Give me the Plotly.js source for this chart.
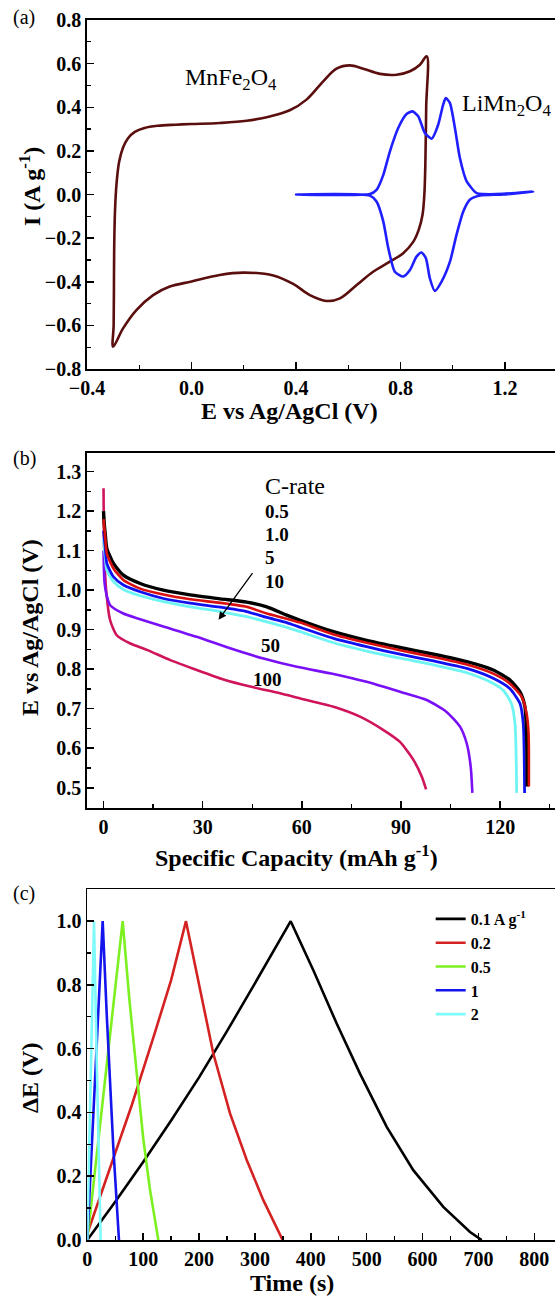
<!DOCTYPE html>
<html>
<head>
<meta charset="utf-8">
<script src="https://cdn.plot.ly/plotly-3.0.1.min.js"></script>
<style>html,body{margin:0;padding:0;background:#fff;}#chart{width:555px;height:1296px;}</style>
</head>
<body>
<div id="chart"></div>
<script>
// ---------- Panel (a): cyclic voltammograms ----------
const cvMnFeE = [-0.300,-0.298,-0.297,-0.296,-0.293,-0.287,-0.277,-0.262,-0.243,-0.217,-0.180,-0.130,-0.060,0.0,0.108,0.211,0.300,0.376,0.440,0.504,0.555,0.606,0.657,0.721,0.785,0.836,0.874,0.900,0.898,0.895,0.891,0.884,0.870,0.849,0.810,0.759,0.695,0.632,0.568,0.517,0.453,0.389,0.313,0.198,0.108,0.0,-0.083,-0.147,-0.211,-0.262,-0.300];
const cvMnFeI = [-0.698,-0.600,-0.450,-0.250,-0.080,0.050,0.150,0.215,0.258,0.287,0.305,0.315,0.320,0.323,0.328,0.338,0.358,0.386,0.435,0.519,0.577,0.592,0.577,0.553,0.549,0.565,0.595,0.634,0.400,0.150,0.000,-0.093,-0.160,-0.216,-0.269,-0.308,-0.354,-0.415,-0.476,-0.488,-0.461,-0.410,-0.371,-0.358,-0.369,-0.399,-0.422,-0.461,-0.530,-0.614,-0.698];
const cvLiMnE = [0.400,0.683,0.708,0.734,0.759,0.791,0.823,0.846,0.868,0.893,0.919,0.944,0.963,0.973,0.989,1.008,1.027,1.053,1.091,1.117,1.193,1.307,1.193,1.104,1.065,1.040,1.014,0.989,0.957,0.931,0.912,0.897,0.880,0.861,0.836,0.810,0.778,0.753,0.734,0.708,0.683,0.400];
const cvLiMnI = [0.000,0.002,0.021,0.090,0.197,0.305,0.369,0.381,0.358,0.282,0.256,0.320,0.412,0.442,0.419,0.305,0.167,0.060,0.006,0.002,0.003,0.014,0.000,-0.005,-0.024,-0.078,-0.185,-0.308,-0.399,-0.442,-0.384,-0.292,-0.266,-0.285,-0.346,-0.376,-0.354,-0.246,-0.124,-0.032,-0.005,0.000];
const cvNames = ['MnFe<sub>2</sub>O<sub>4</sub>', 'LiMn<sub>2</sub>O<sub>4</sub>'];

// ---------- Panel (b): discharge curves at different C-rates ----------
const cRateLabels = ['0.5', '1.0', '5', '10', '50', '100'];
const capC05 = [0,0.2,0.5,1,3,6,11.1,18.1,26.2,35.3,43.3,49.4,55.4,59.5,69.6,79.6,89.7,99.9,109.9,117.9,122.9,126.0,127.5,128.0,128.2];
const voltC05 = [1.20,1.17,1.144,1.106,1.068,1.038,1.017,1.000,0.988,0.978,0.970,0.958,0.937,0.924,0.895,0.873,0.855,0.838,0.819,0.798,0.773,0.743,0.705,0.638,0.503];
const capC1 = [0,0.5,1,3,6,11.1,18.1,26.2,35.3,43.3,49.4,55.4,59.5,69.6,79.6,89.7,99.8,109.9,117.9,122.9,126.5,128.0,128.6,128.7];
const voltC1 = [1.18,1.135,1.093,1.055,1.026,1.004,0.989,0.977,0.968,0.958,0.941,0.928,0.918,0.888,0.867,0.848,0.831,0.812,0.789,0.764,0.730,0.688,0.638,0.503];
const capC5 = [0,0.5,1,3,6,11.1,18.1,26.2,35.3,43.3,49.4,55.4,59.5,69.6,79.6,89.7,99.8,109.9,117.9,122.9,126.0,127.0,127.4];
const voltC5 = [1.15,1.110,1.068,1.034,1.013,0.996,0.979,0.967,0.957,0.946,0.931,0.918,0.906,0.878,0.857,0.838,0.821,0.802,0.777,0.751,0.713,0.662,0.487];
const capC10 = [0,0.5,1,3,6,11.1,18.1,26.2,35.3,43.3,49.4,55.4,59.5,69.6,79.6,89.7,99.8,109.9,116.9,120.9,123.4,124.5,125.0];
const voltC10 = [1.13,1.085,1.051,1.022,1.002,0.986,0.971,0.958,0.946,0.933,0.920,0.906,0.895,0.867,0.846,0.828,0.811,0.791,0.768,0.747,0.713,0.662,0.487];
const capC50 = [0,0.3,1,2,6,10.1,18.1,28.2,38.3,48.4,58.5,69.6,79.6,89.7,97.8,103.8,107.9,109.9,111.1,111.6];
const voltC50 = [1.10,1.02,0.985,0.962,0.941,0.929,0.908,0.882,0.853,0.827,0.806,0.788,0.768,0.743,0.722,0.692,0.654,0.612,0.553,0.487];
const capC100 = [0,0.2,0.8,2,4,8.1,13.1,20.2,28.2,36.3,44.4,53.4,59.5,69.6,77.6,84.7,89.7,93.8,96.3,97.6];
const voltC100 = [1.258,1.102,1.0,0.924,0.886,0.865,0.849,0.823,0.798,0.774,0.756,0.739,0.726,0.705,0.680,0.646,0.616,0.570,0.528,0.496];

// ---------- Panel (c): galvanostatic charge/discharge ----------
const currentLabels = ['0.1 A g<sup>-1</sup>', '0.2', '0.5', '1', '2'];
const time01 = [0,50,100,150,200,250,300,335,364,404.5,446.3,488,535.8,583.4,637.1,684.9,705.8];
const dE01 = [0,0.12,0.245,0.375,0.51,0.655,0.805,0.91,1.0,0.846,0.679,0.522,0.355,0.219,0.104,0.025,0];
const time02 = [0,40,80,120,150,176.6,201.7,225.5,255.4,285.3,315.0,340,349.6];
const dE02 = [0.02,0.22,0.425,0.645,0.815,1.0,0.783,0.585,0.397,0.251,0.125,0.035,0];
const time05 = [0,31,63.3,75,88,100,112,127.1];
const dE05 = [0,0.5,1.0,0.76,0.52,0.32,0.16,0];
const time1 = [0,13.5,27.5,34.7,46.5,56.7];
const dE1 = [0,0.5,1.0,0.71,0.292,0];
const time2 = [0,6,12,17,23.9];
const dE2 = [0,0.5,1.0,0.55,0];

// ---------- styling ----------
const SERIF = 'Liberation Serif';
const tickFont = {family: SERIF, size: 20, color: '#000', weight: 'bold'};
const numFont = {family: SERIF, size: 19, color: '#000', weight: 'bold'};
const titleFont = {family: SERIF, size: 24, color: '#000', weight: 'bold'};
const plainFont = {family: SERIF, size: 24, color: '#000'};

function axis(extra, minorDtick) {
  return Object.assign({
    showline: true, linecolor: '#000', linewidth: 1.8,
    ticks: 'inside', ticklen: 7, tickwidth: 1.5, tickcolor: '#000',
    showgrid: false, zeroline: false, fixedrange: true,
    tickfont: tickFont,
    minor: {ticks: 'inside', ticklen: 4, tickwidth: 1.3, tickcolor: '#000', dtick: minorDtick, showgrid: false}
  }, extra);
}

const spA = {shape: 'spline', smoothing: 1.0};
const sp = {shape: 'spline', smoothing: 0.6};
const traces = [
  {x: cvMnFeE, y: cvMnFeI, xaxis: 'x', yaxis: 'y', mode: 'lines', name: cvNames[0], showlegend: false,
   line: Object.assign({color: '#5a0e0e', width: 2.6}, spA)},
  {x: cvLiMnE, y: cvLiMnI, xaxis: 'x', yaxis: 'y', mode: 'lines', name: cvNames[1], showlegend: false,
   line: Object.assign({color: '#1f1fff', width: 2.6}, sp)},

  {x: capC100, y: voltC100, xaxis: 'x2', yaxis: 'y2', mode: 'lines', name: cRateLabels[5], showlegend: false,
   line: Object.assign({color: '#d0145c', width: 2.6}, sp)},
  {x: capC50, y: voltC50, xaxis: 'x2', yaxis: 'y2', mode: 'lines', name: cRateLabels[4], showlegend: false,
   line: Object.assign({color: '#7a10f5', width: 2.6}, sp)},
  {x: capC10, y: voltC10, xaxis: 'x2', yaxis: 'y2', mode: 'lines', name: cRateLabels[3], showlegend: false,
   line: Object.assign({color: '#6ff4f4', width: 2.8}, sp)},
  {x: capC5, y: voltC5, xaxis: 'x2', yaxis: 'y2', mode: 'lines', name: cRateLabels[2], showlegend: false,
   line: Object.assign({color: '#1010f0', width: 2.8}, sp)},
  {x: capC05, y: voltC05, xaxis: 'x2', yaxis: 'y2', mode: 'lines', name: cRateLabels[0], showlegend: false,
   line: Object.assign({color: '#000000', width: 3.4}, sp)},
  {x: capC1, y: voltC1, xaxis: 'x2', yaxis: 'y2', mode: 'lines', name: cRateLabels[1], showlegend: false,
   line: Object.assign({color: '#d81010', width: 2.6}, sp)},

  {x: time01, y: dE01, xaxis: 'x3', yaxis: 'y3', mode: 'lines', name: currentLabels[0],
   line: {color: '#000000', width: 2.6}},
  {x: time02, y: dE02, xaxis: 'x3', yaxis: 'y3', mode: 'lines', name: currentLabels[1],
   line: {color: '#d42222', width: 2.6}},
  {x: time05, y: dE05, xaxis: 'x3', yaxis: 'y3', mode: 'lines', name: currentLabels[2],
   line: {color: '#7cf020', width: 2.6}},
  {x: time1, y: dE1, xaxis: 'x3', yaxis: 'y3', mode: 'lines', name: currentLabels[3],
   line: {color: '#1414ee', width: 2.6}},
  {x: time2, y: dE2, xaxis: 'x3', yaxis: 'y3', mode: 'lines', name: currentLabels[4],
   line: {color: '#7ffafa', width: 2.6}}
];

const H = 1296, W = 555;
const px = v => v / W;
const py = v => 1 - v / H;

function ann(text, x, y, opts) {
  return Object.assign({text: text, x: x, y: y, xref: 'paper', yref: 'paper', showarrow: false,
    xanchor: 'center', yanchor: 'middle'}, opts);
}
function dataAnn(text, x, y, xr, yr, font, xanchor) {
  return {text: text, x: x, y: y, xref: xr, yref: yr, showarrow: false,
    xanchor: xanchor || 'center', yanchor: 'middle', font: font};
}

const annotations = [
  ann('(a)', px(11), py(17), {xanchor: 'left', font: {family: SERIF, size: 20, color: '#000'}}),
  ann('(b)', px(11), py(458), {xanchor: 'left', font: {family: SERIF, size: 20, color: '#000'}}),
  ann('(c)', px(11), py(893), {xanchor: 'left', font: {family: SERIF, size: 20, color: '#000'}}),
  // axis titles
  ann('I (A g<sup>-1</sup>)', px(30), py(187), {textangle: -90, font: titleFont}),
  ann('E vs Ag/AgCl (V)', px(289), py(411), {font: titleFont}),
  ann('E vs Ag/AgCl (V)', px(30), py(628), {textangle: -90, font: titleFont}),
  ann('Specific Capacity (mAh g<sup>-1</sup>)', px(296), py(856), {font: titleFont}),
  ann('\u0394E (V)', px(30), py(1078), {textangle: -90, font: titleFont}),
  ann('Time (s)', px(292), py(1283), {font: titleFont}),
  // panel (a) labels
  dataAnn(cvNames[0], 0.15, 0.53, 'x', 'y', plainFont),
  dataAnn(cvNames[1], 1.206, 0.41, 'x', 'y', plainFont),
  // panel (b) labels
  dataAnn('C-rate', 48.3, 1.264, 'x2', 'y2', plainFont, 'left'),
  dataAnn(cRateLabels[0], 48.3, 1.198, 'x2', 'y2', numFont, 'left'),
  dataAnn(cRateLabels[1], 48.3, 1.140, 'x2', 'y2', numFont, 'left'),
  dataAnn(cRateLabels[2], 48.3, 1.084, 'x2', 'y2', numFont, 'left'),
  dataAnn(cRateLabels[3], 48.3, 1.023, 'x2', 'y2', numFont, 'left'),
  dataAnn(cRateLabels[4], 50.4, 0.861, 'x2', 'y2', numFont),
  dataAnn(cRateLabels[5], 49.5, 0.775, 'x2', 'y2', numFont),
  {text: '', x: 34.8, y: 0.925, xref: 'x2', yref: 'y2', ax: 45.4, ay: 1.047, axref: 'x2', ayref: 'y2',
   showarrow: true, arrowhead: 2, arrowsize: 1.2, arrowwidth: 1.3, arrowcolor: '#000'}
];

const layout = {
  width: W, height: H,
  margin: {l: 0, r: 0, t: 0, b: 0},
  paper_bgcolor: '#fff', plot_bgcolor: '#fff',
  font: {family: SERIF, size: 18, color: '#000'},
  showlegend: true,
  legend: {x: 0.776, y: py(902), xanchor: 'left', yanchor: 'top', bgcolor: 'rgba(0,0,0,0)',
           borderwidth: 0, tracegroupgap: 0, itemwidth: 30,
           font: {family: SERIF, size: 16, color: '#000', weight: 'bold'}},
  xaxis: axis({domain: [px(87), 1], range: [-0.4, 1.391], anchor: 'y', mirror: true,
               tick0: -0.4, dtick: 0.4, tickformat: '.1f'}, 0.2),
  yaxis: axis({domain: [py(369), py(20)], range: [-0.8, 0.8], anchor: 'x',
               tick0: -0.8, dtick: 0.2, tickformat: '.1f'}, 0.1),
  xaxis2: axis({domain: [px(87), 1], range: [-5, 136.6], anchor: 'y2', mirror: true,
                tick0: 0, dtick: 30}, 15),
  yaxis2: axis({domain: [py(808.3), py(452.7)], range: [0.448, 1.348], anchor: 'x2',
                tick0: 0.5, dtick: 0.1, tickformat: '.1f'}, 0.05),
  xaxis3: axis({domain: [px(87.3), 1], range: [0, 837], anchor: 'y3', mirror: true,
                tick0: 0, dtick: 100}, 50),
  yaxis3: axis({domain: [py(1240), py(889.3)], range: [0, 1.1], anchor: 'x3',
                tick0: 0, dtick: 0.2, tickformat: '.1f'}, 0.1),
  annotations: annotations
};

Plotly.newPlot('chart', traces, layout, {staticPlot: true, displayModeBar: false});
</script>
</body>
</html>
